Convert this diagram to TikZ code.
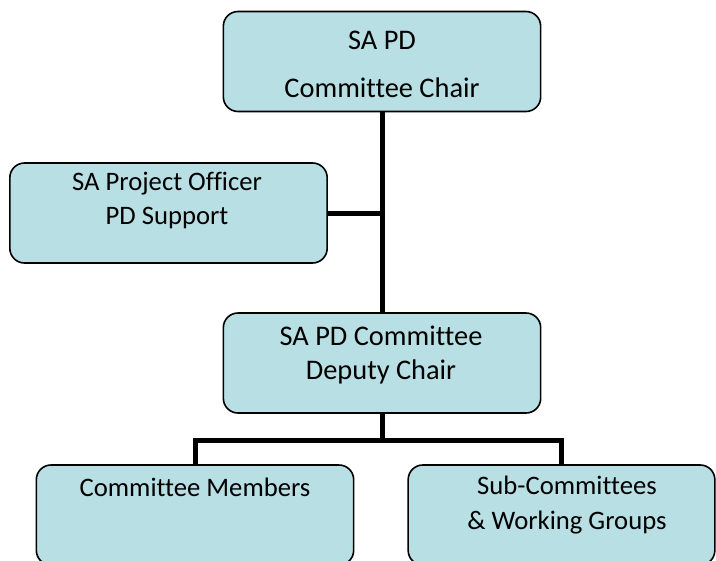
\documentclass[tikz,border=0pt]{standalone}
\usepackage{fontspec}
\setmainfont[Ligatures=NoCommon]{Carlito}
\usepackage{tikz}
\definecolor{boxfill}{RGB}{184,223,227}

\begin{document}
\begin{tikzpicture}[x=0.75pt,y=-0.75pt,
  orgbox/.style={draw=black,line width=1.2pt,fill=boxfill,rounded corners=11pt,
    minimum width=238pt,minimum height=75pt,inner sep=0pt},
  boxtext/.style={align=center,inner sep=0pt,font=\fontsize{20}{26}\selectfont},
  bigtext/.style={boxtext,font=\fontsize{21.3}{26}\selectfont},
  link/.style={line width=3.75pt}]
\clip (0,0) rectangle (716,560);

% boxes
\node[orgbox] (chair) at (382,61.5) {};
\node[orgbox] (officer) at (168.5,213) {};
\node[orgbox] (deputy) at (382,363) {};
\node[orgbox] (members) at (195,515) {};
\node[orgbox,minimum width=230pt] (subs) at (561.5,515) {};

% texts
\node[bigtext] (chairtxt) at (382,64) {SA PD\\[10pt]Committee Chair};
\node[boxtext] (officertxt) at (167,200.5) {SA Project Officer\\PD Support};
\node[bigtext] (deputytxt) at (381,355) {SA PD Committee\\Deputy Chair};
\node[boxtext] (memberstxt) at (195,487) {Committee Members};
\node[boxtext] (substxt) at (567,505) {Sub-Committees\\\& Working Groups};

% connectors
\coordinate (jn) at (chair.south |- officer.east);
\coordinate (bar) at (382,440);
\draw[link] (chair.south) -- (deputy.north);
\draw[link] (officer.east) -- (jn);
\draw[link] (deputy.south) -- (bar);
\draw[link] (members.north) |- (bar) -| (subs.north);

\end{tikzpicture}
\end{document}
